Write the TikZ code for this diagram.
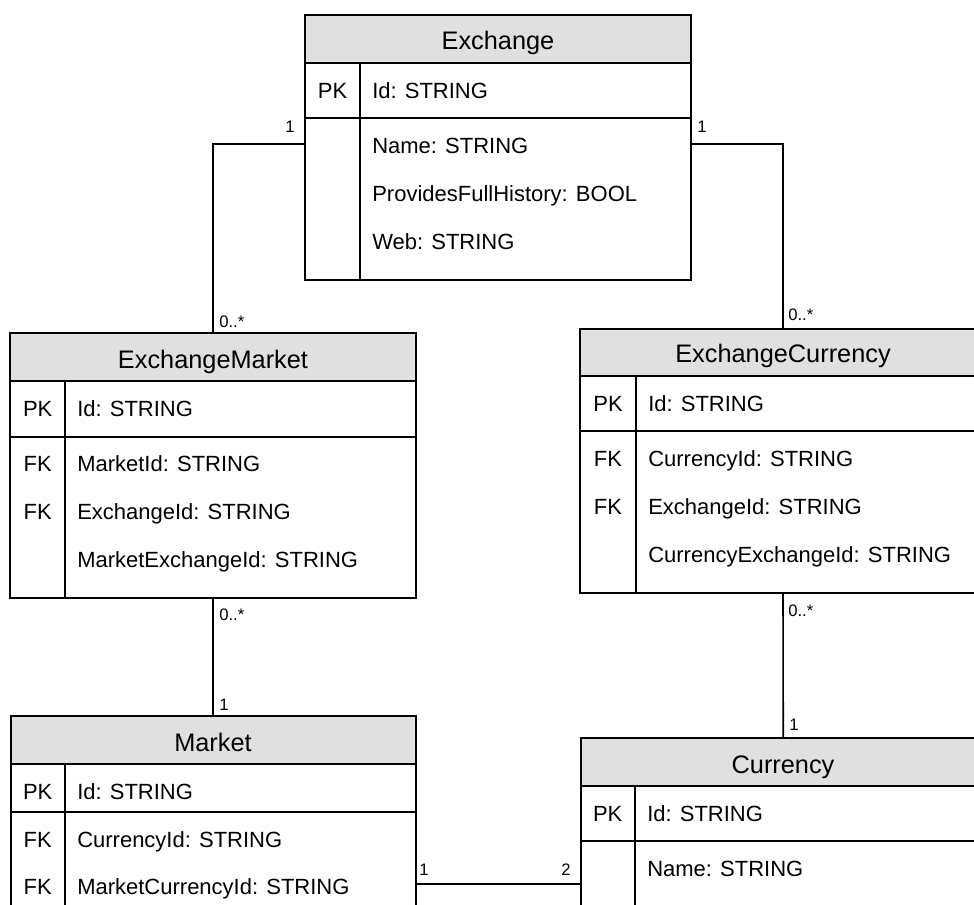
\documentclass[tikz,border=0pt]{standalone}
\usepackage{fontspec}
\setmainfont{Liberation Sans}
\usetikzlibrary{fit}

\definecolor{hdrgray}{RGB}{224,224,224}

\tikzset{
  tblbox/.style={draw, line width=1.5pt, inner sep=0pt},
  tblline/.style={line width=1.5pt},
  hdrtxt/.style={anchor=base, inner sep=0.75pt, font=\fontsize{19}{21}\selectfont},
  keytxt/.style={anchor=base, inner sep=0.75pt, font=\fontsize{16.5}{18}\selectfont},
  fldtxt/.style={anchor=base west, inner sep=0.75pt, font=\fontsize{16.5}{18}\selectfont},
  multi/.style={inner sep=0.75pt, font=\fontsize{12.5}{14}\selectfont},
  rel/.style={line width=1.2pt},
}

\begin{document}
\begin{tikzpicture}[x=0.75pt,y=0.75pt,yscale=-1,xscale=1]
\useasboundingbox (0,0) rectangle (974,905);
\clip (0,0) rectangle (974,905);

%Table: Exchange
\fill [hdrgray] (305,15) rectangle (691,63);
\node [tblbox, fit={(305,15) (691,280)}] (exch) {};
\draw [tblline] (305,63) -- (691,63);
\draw [tblline] (305,118) -- (691,118);
\draw [tblline] (360,63) -- (360,280);
\node [hdrtxt] (exchT) at (498,50) {Exchange};
\node [keytxt] (exchPK) at (332.5,98.5) {PK};
\node [fldtxt] (exchId) at (371,98.5) {Id: STRING};
\node [fldtxt] (exchName) at (371,153.3) {Name: STRING};
\node [fldtxt] (exchHist) at (371,201.3) {ProvidesFullHistory: BOOL};
\node [fldtxt] (exchWeb) at (371,249.3) {Web: STRING};

%Table: ExchangeMarket
\fill [hdrgray] (10,333) rectangle (416,381);
\node [tblbox, fit={(10,333) (416,598)}] (exmk) {};
\draw [tblline] (10,381) -- (416,381);
\draw [tblline] (10,436.7) -- (416,436.7);
\draw [tblline] (65.3,381) -- (65.3,598);
\node [hdrtxt] (exmkT) at (213,368.3) {ExchangeMarket};
\node [keytxt] (exmkPK) at (37.7,416.5) {PK};
\node [fldtxt] (exmkId) at (76,416.5) {Id: STRING};
\node [keytxt] (exmkFK1) at (37.7,471) {FK};
\node [fldtxt] (exmkMkt) at (76,471) {MarketId: STRING};
\node [keytxt] (exmkFK2) at (37.7,519) {FK};
\node [fldtxt] (exmkExch) at (76,519) {ExchangeId: STRING};
\node [fldtxt] (exmkMEx) at (76,567) {MarketExchangeId: STRING};

%Table: ExchangeCurrency
\fill [hdrgray] (580,329) rectangle (986,376);
\node [tblbox, fit={(580,329) (986,593)}] (excu) {};
\draw [tblline] (580,376) -- (986,376);
\draw [tblline] (580,431) -- (986,431);
\draw [tblline] (636,376) -- (636,593);
\node [hdrtxt] (excuT) at (783,363) {ExchangeCurrency};
\node [keytxt] (excuPK) at (608,411.5) {PK};
\node [fldtxt] (excuId) at (647,411.5) {Id: STRING};
\node [keytxt] (excuFK1) at (608,466) {FK};
\node [fldtxt] (excuCur) at (647,466) {CurrencyId: STRING};
\node [keytxt] (excuFK2) at (608,514) {FK};
\node [fldtxt] (excuExch) at (647,514) {ExchangeId: STRING};
\node [fldtxt] (excuCEx) at (647,562) {CurrencyExchangeId: STRING};

%Table: Market
\fill [hdrgray] (10.5,716) rectangle (415.5,764);
\node [tblbox, fit={(10.5,716) (415.5,930)}] (mkt) {};
\draw [tblline] (10.5,764) -- (415.5,764);
\draw [tblline] (10.5,812) -- (415.5,812);
\draw [tblline] (65,764) -- (65,930);
\node [hdrtxt] (mktT) at (213,751) {Market};
\node [keytxt] (mktPK) at (37.7,799.5) {PK};
\node [fldtxt] (mktId) at (76,799.5) {Id: STRING};
\node [keytxt] (mktFK1) at (37.7,847) {FK};
\node [fldtxt] (mktCur) at (76,847) {CurrencyId: STRING};
\node [keytxt] (mktFK2) at (37.7,894.5) {FK};
\node [fldtxt] (mktMCur) at (76,894.5) {MarketCurrencyId: STRING};

%Table: Currency
\fill [hdrgray] (580.5,738) rectangle (986,786);
\node [tblbox, fit={(580.5,738) (986,930)}] (cur) {};
\draw [tblline] (580.5,786) -- (986,786);
\draw [tblline] (580.5,841) -- (986,841);
\draw [tblline] (635,786) -- (635,930);
\node [hdrtxt] (curT) at (783,773) {Currency};
\node [keytxt] (curPK) at (607.7,821.5) {PK};
\node [fldtxt] (curId) at (646,821.5) {Id: STRING};
\node [fldtxt] (curName) at (646,876) {Name: STRING};

%Relations
\path (exchName.center) ++(0,-2) coordinate (exchLink);
\path (mktMCur.center) ++(0,-5) coordinate (mcLink);
\draw [rel] (exch.west |- exchLink) -| (exmk.north);
\draw [rel] (exch.east |- exchLink) -| (excu.north);
\draw [rel] (exmk.south) -- (mkt.north);
\draw [rel] (excu.south) -- (cur.north);
\draw [rel] (mkt.east |- mcLink) -- (cur.west |- mcLink);

% Multiplicities
\node [multi, anchor=base east] (mExL) at (296,133) {1};
\node [multi, anchor=base west] (mExR) at (696,133) {1};
\node [multi, anchor=base west] (mEmT) at (218,328) {0..*};
\node [multi, anchor=base west] (mEmB) at (218,620) {0..*};
\node [multi, anchor=base west] (mMkT) at (218,710) {1};
\node [multi, anchor=base west] (mEcT) at (787,321) {0..*};
\node [multi, anchor=base west] (mEcB) at (787,616) {0..*};
\node [multi, anchor=base west] (mCuT) at (788,730) {1};
\node [multi, anchor=base west] (mMkR) at (418,875) {1};
\node [multi, anchor=base east] (mCuL) at (572,875) {2};

\end{tikzpicture}
\end{document}
